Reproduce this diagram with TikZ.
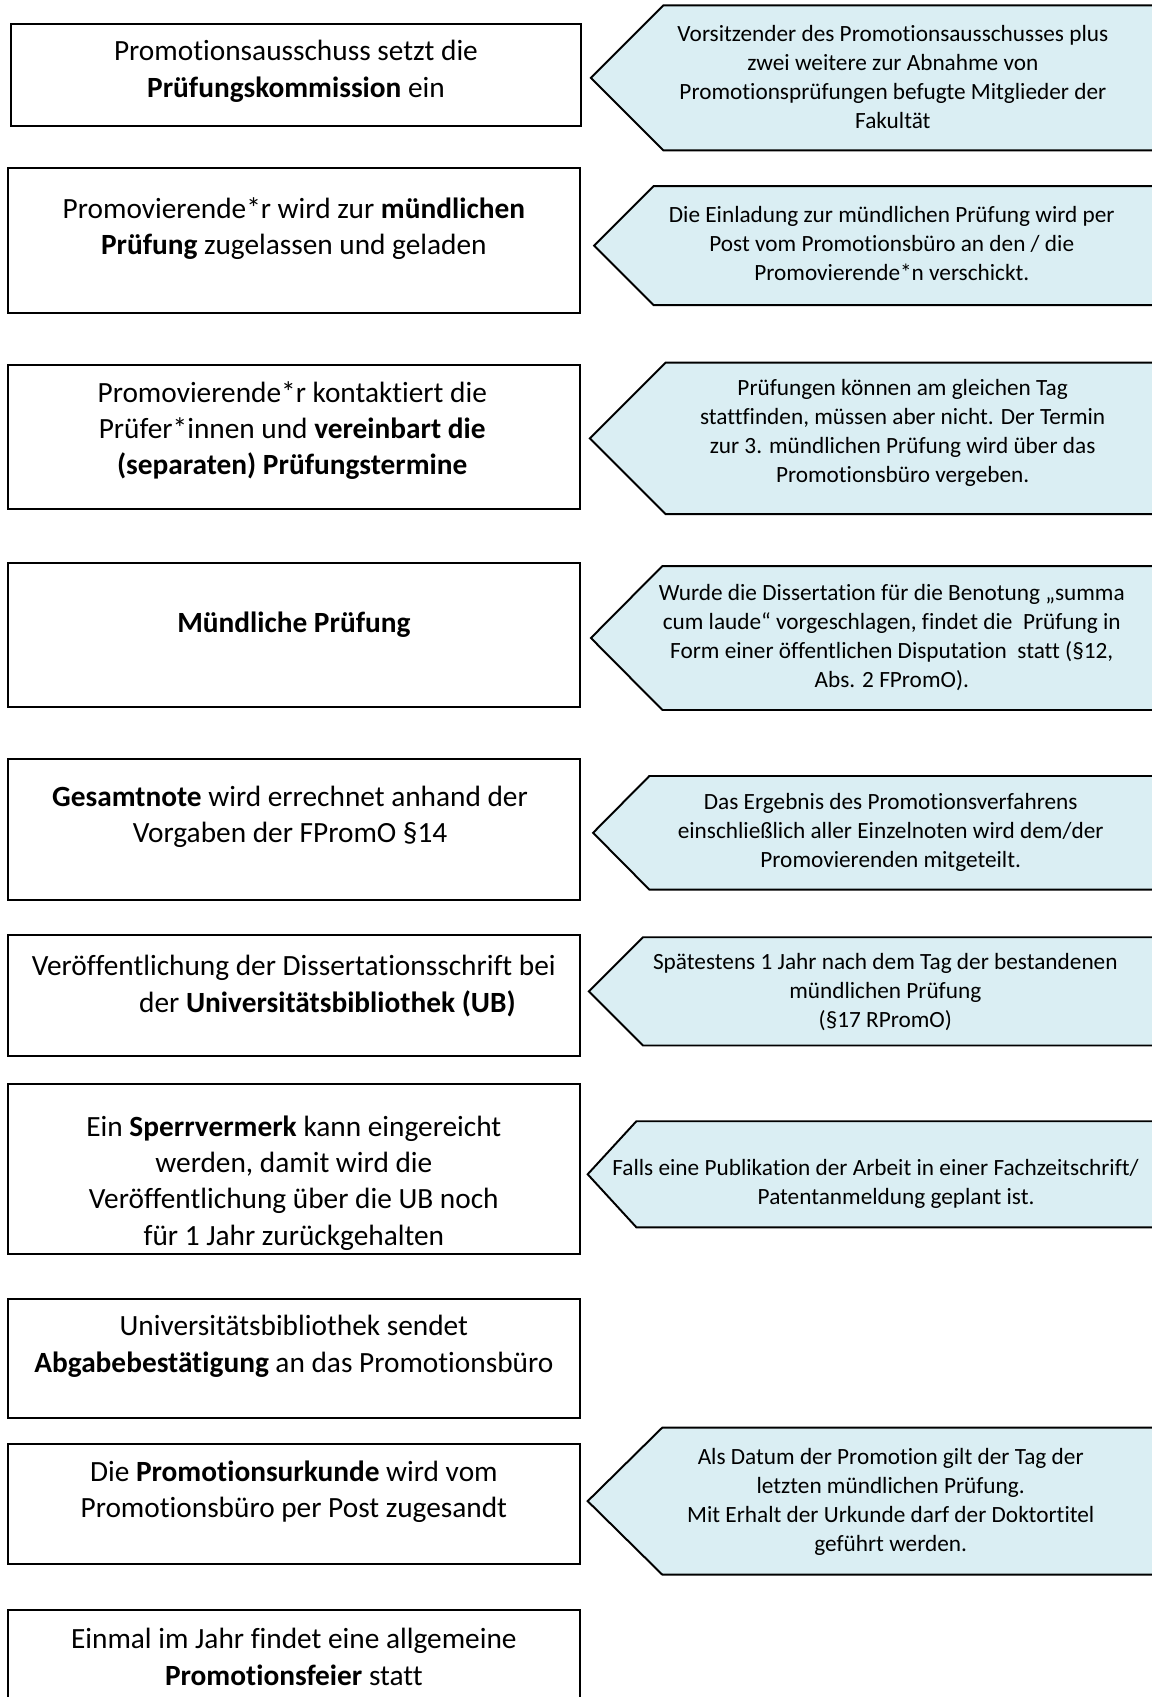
\documentclass[tikz,border=0pt]{standalone}
\usepackage{fontspec}
\setmainfont{Carlito}[Ligatures=NoCommon]
\definecolor{noteblue}{HTML}{DAEEF3}
\tikzset{
  stepbox/.style={draw=black, line width=1.8pt, fill=white},
  steptext/.style={align=center, inner sep=0pt, font=\fontsize{27.1}{33.5}\selectfont},
  notebox/.style={draw=black, line width=1.8pt, fill=noteblue, line join=miter},
  notetext/.style={align=center, inner sep=0pt, font=\fontsize{21.5}{26.8}\selectfont},
}
\begin{document}
\begin{tikzpicture}[x=1pt,y=-1pt]
\useasboundingbox (0,0) rectangle (1064.4,1568);
\clip (0,0) rectangle (1064.4,1568);
% ---------- left step boxes ----------
\draw[stepbox] (10,22) rectangle (537,116);
\node[steptext] (s1) at (273.5,66) {Promotionsausschuss setzt die\\\textbf{Prüfungskommission} ein};
\draw[stepbox] (7,155) rectangle (536,289);
\node[steptext] (s2) at (271.5,211) {Promovierende*r wird zur \textbf{mündlichen}\\\textbf{Prüfung} zugelassen und geladen};
\draw[stepbox] (7,337) rectangle (536,470);
\node[steptext] (s3) at (270,398) {Promovierende*r kontaktiert die\\Prüfer*innen und \textbf{vereinbart die}\\\textbf{(separaten) Prüfungstermine}};
\draw[stepbox] (7,520) rectangle (536,653);
\node[steptext] (s4) at (271.5,577) {\textbf{Mündliche Prüfung}};
\draw[stepbox] (7,701) rectangle (536,832);
\node[steptext] (s5) at (268,755) {\textbf{Gesamtnote} wird errechnet anhand der\\Vorgaben der FPromO §14};
\draw[stepbox] (7,864) rectangle (536,976);
\node[steptext] (s6) at (271.5,911) {Veröffentlichung der Dissertationsschrift bei\\\hspace*{62pt}der \textbf{Universitätsbibliothek (UB)}};
\draw[stepbox] (7,1002) rectangle (536,1159);
\node[steptext] (s7) at (271.5,1093) {Ein \textbf{Sperrvermerk} kann eingereicht\\werden, damit wird die\\Veröffentlichung über die UB noch\\für 1 Jahr zurückgehalten};
\draw[stepbox] (7,1200) rectangle (536,1310);
\node[steptext] (s8) at (271.5,1244) {Universitätsbibliothek sendet\\\textbf{Abgabebestätigung} an das Promotionsbüro};
\draw[stepbox] (7,1334) rectangle (536,1445);
\node[steptext] (s9) at (271.5,1378) {Die \textbf{Promotionsurkunde} wird vom\\Promotionsbüro per Post zugesandt};
\draw[stepbox] (7,1488) rectangle (536,1620);
\node[steptext] (s10) at (271.5,1531) {Einmal im Jahr findet eine allgemeine\\\textbf{Promotionsfeier} statt};
% ---------- right note arrows ----------
\draw[notebox] (1100,5) -- (613,5) -- (546,72) -- (613,139) -- (1100,139);
\node[notetext] (n1) at (825,71) {Vorsitzender des Promotionsausschusses plus\\zwei weitere zur Abnahme von\\Promotionsprüfungen befugte Mitglieder der\\Fakultät};
\draw[notebox] (1100,172) -- (604,172) -- (549,227) -- (604,282) -- (1100,282);
\node[notetext] (n2) at (824,225) {Die Einladung zur mündlichen Prüfung wird per\\Post vom Promotionsbüro an den / die\\Promovierende*n verschickt.};
\draw[notebox] (1100,335) -- (615,335) -- (545,405) -- (615,475) -- (1100,475);
\node[notetext] (n3) at (834,400) {Prüfungen können am gleichen Tag\\stattfinden, müssen aber nicht. Der Termin\\zur 3. mündlichen Prüfung wird über das\\Promotionsbüro vergeben.};
\draw[notebox] (1100,523) -- (612,523) -- (546,589.5) -- (612,656) -- (1100,656);
\node[notetext] (n4) at (824,589) {Wurde die Dissertation für die Benotung „summa\\cum laude“ vorgeschlagen, findet die\ \ Prüfung in\\Form einer öffentlichen Disputation\ \ statt (§12,\\Abs. 2 FPromO).};
\draw[notebox] (1100,717) -- (600,717) -- (548,769.5) -- (600,822) -- (1100,822);
\node[notetext] (n5) at (823,769.5) {Das Ergebnis des Promotionsverfahrens\\einschließlich aller Einzelnoten wird dem/der\\Promovierenden mitgeteilt.};
\draw[notebox] (1100,866) -- (594,866) -- (544,916) -- (594,966) -- (1100,966);
\node[notetext] (n6) at (818,917) {Spätestens 1 Jahr nach dem Tag der bestandenen\\mündlichen Prüfung\\(§17 RPromO)};
\draw[notebox] (1100,1036) -- (588,1036) -- (543,1085) -- (588,1134) -- (1100,1134);
\node[notetext] (n7) at (809,1094) {Falls eine Publikation der Arbeit in einer Fachzeitschrift/\\\hspace*{38pt}Patentanmeldung geplant ist.};
\draw[notebox] (1100,1319) -- (612,1319) -- (543,1387) -- (612,1455) -- (1100,1455);
\node[notetext] (n8) at (823,1388) {Als Datum der Promotion gilt der Tag der\\letzten mündlichen Prüfung.\\Mit Erhalt der Urkunde darf der Doktortitel\\geführt werden.};
\end{tikzpicture}
\end{document}
